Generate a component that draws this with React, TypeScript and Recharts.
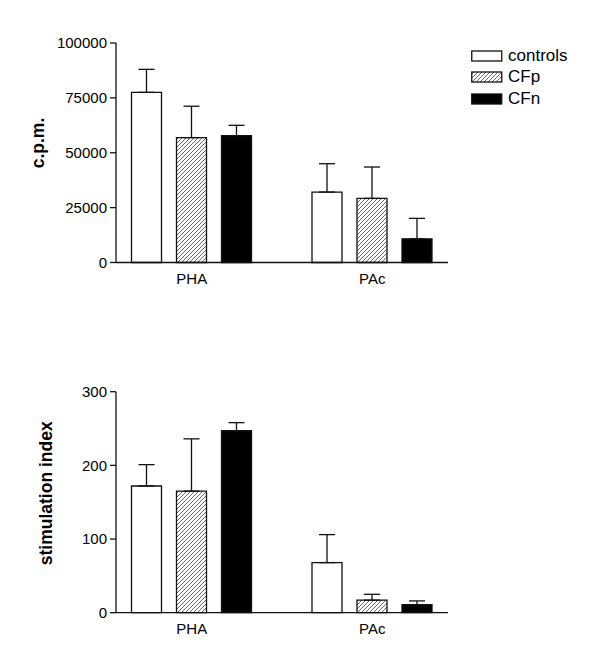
import { Bar, BarChart, ErrorBar, Label, XAxis, YAxis } from "recharts";

const categories = ["PHA", "PAc"];

const cpmControls = [77500, 32100];
const cpmControlsErr = [10500, 12900];
const cpmCFp = [56900, 29200];
const cpmCFpErr = [14300, 14300];
const cpmCFn = [57800, 10800];
const cpmCFnErr = [4700, 9300];

const siControls = [172, 68];
const siControlsErr = [29, 38];
const siCFp = [165, 17];
const siCFpErr = [71, 8];
const siCFn = [247, 11];
const siCFnErr = [11, 5];

const cpmTicks = [0, 25000, 50000, 75000, 100000];
const siTicks = [0, 100, 200, 300];

const groups = [
  { key: "controls", name: "controls", fill: "#fff" },
  { key: "CFp", name: "CFp", fill: "url(#hatch)" },
  { key: "CFn", name: "CFn", fill: "#000" },
];

const font = "'Liberation Sans', Arial, sans-serif";
const ink = "#111";

const buildRows = (
  vals: number[][],
  errs: number[][]
) =>
  categories.map((cat, i) => ({
    cat,
    controls: vals[0][i],
    controlsErr: [0, errs[0][i]],
    CFp: vals[1][i],
    CFpErr: [0, errs[1][i]],
    CFn: vals[2][i],
    CFnErr: [0, errs[2][i]],
  }));

const cpmRows = buildRows(
  [cpmControls, cpmCFp, cpmCFn],
  [cpmControlsErr, cpmCFpErr, cpmCFnErr]
);
const siRows = buildRows(
  [siControls, siCFp, siCFn],
  [siControlsErr, siCFpErr, siCFnErr]
);

// legend sits outside the chart so it doesn't eat into the plot area
const LegendBox = () => (
  <div
    style={{
      position: "absolute",
      left: 471,
      top: 45,
      fontFamily: font,
      fontSize: 17,
      color: "#000",
    }}
  >
    {groups.map((g) => (
      <div
        key={g.key}
        style={{ display: "flex", alignItems: "center", height: 21.5 }}
      >
        <svg width={32} height={12} style={{ marginRight: 5 }}>
          <rect
            x={0.75}
            y={1}
            width={30}
            height={10}
            fill={g.fill}
            stroke={ink}
            strokeWidth={1.3}
          />
        </svg>
        <span>{g.name}</span>
      </div>
    ))}
  </div>
);

const Panel = ({
  rows,
  ticks,
  max,
  label,
  labelX,
  labelY,
  top,
  plotTop,
  plotHeight,
}: {
  rows: ReturnType<typeof buildRows>;
  ticks: number[];
  max: number;
  label: string;
  labelX: number;
  labelY: number;
  top: number;
  plotTop: number;
  plotHeight: number;
}) => {
  const height = 320;
  return (
    <div style={{ position: "absolute", left: 0, top }}>
      <BarChart
        width={600}
        height={height}
        data={rows}
        margin={{
          top: plotTop,
          left: 56,
          right: 152,
          bottom: height - plotTop - plotHeight - 30,
        }}
        barSize={30}
        barGap={15}
      >
        <XAxis
          dataKey="cat"
          axisLine={{ stroke: ink, strokeWidth: 1.3 }}
          tickLine={false}
          tickSize={0}
          tickMargin={11}
          height={30}
          padding={{ left: -14.5, right: -14.5 }}
          tick={{ fill: "#000", fontSize: 15, fontFamily: font }}
        />
        <YAxis
          width={60}
          domain={[0, max]}
          ticks={ticks}
          interval={0}
          axisLine={{ stroke: ink, strokeWidth: 1.3 }}
          tickLine={{ stroke: ink, strokeWidth: 1.3 }}
          tickSize={6}
          tickMargin={3}
          tick={{ fill: "#000", fontSize: 15, fontFamily: font }}
        >
          <Label
            content={() => (
              <text
                x={labelX}
                y={labelY}
                transform={`rotate(-90 ${labelX} ${labelY})`}
                textAnchor="middle"
                fontFamily={font}
                fontWeight="bold"
                fontSize={17.5}
                fill="#000"
              >
                {label}
              </text>
            )}
          />
        </YAxis>
        {groups.map((g) => (
          <Bar
            key={g.key}
            dataKey={g.key}
            name={g.name}
            fill={g.fill}
            stroke={ink}
            strokeWidth={1.3}
            isAnimationActive={false}
          >
            <ErrorBar
              dataKey={`${g.key}Err`}
              direction="y"
              width={8}
              stroke={ink}
              strokeWidth={1.3}
            />
          </Bar>
        ))}
      </BarChart>
    </div>
  );
};

export default function App() {
  return (
    <div
      style={{
        position: "absolute",
        left: 0,
        top: 0,
        width: 600,
        height: 658,
        background: "#fff",
        overflow: "hidden",
      }}
    >
      <svg width={0} height={0} style={{ position: "absolute" }}>
        <defs>
          <pattern
            id="hatch"
            patternUnits="userSpaceOnUse"
            width={4}
            height={4}
          >
            <rect width={4} height={4} fill="#fff" />
            <path
              d="M-1,1 l2,-2 M0,4 l4,-4 M3,5 l2,-2"
              stroke="#555"
              strokeWidth={0.9}
            />
          </pattern>
        </defs>
      </svg>
      <Panel
        rows={cpmRows}
        ticks={cpmTicks}
        max={100000}
        label="c.p.m."
        labelX={44}
        labelY={143}
        top={0}
        plotTop={43}
        plotHeight={219.5}
      />
      <Panel
        rows={siRows}
        ticks={siTicks}
        max={300}
        label="stimulation index"
        labelX={52.5}
        labelY={163.3}
        top={330}
        plotTop={61.7}
        plotHeight={221}
      />
      <LegendBox />
    </div>
  );
}
